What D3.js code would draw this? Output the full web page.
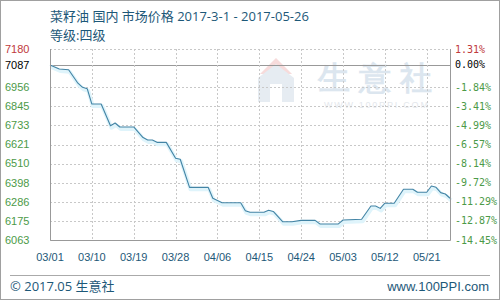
<!DOCTYPE html>
<html>
<head>
<meta charset="utf-8">
<script src="https://cdn.jsdelivr.net/npm/d3@7"></script>
<style>
  html, body { margin: 0; padding: 0; background: #fff; }
  svg { display: block; }
  text { font-family: "Liberation Sans", Arial, sans-serif; }
  .cjk { font-family: "Open Sans", "Noto Sans CJK SC", sans-serif; }
  .mono { font-family: "DejaVu Sans Mono", monospace; }
</style>
</head>
<body>
<div id="chart"></div>
<script>
// price series
const dates = [
  "2017-03-01", "2017-03-03", "2017-03-05", "2017-03-07", "2017-03-08",
  "2017-03-09", "2017-03-10", "2017-03-12", "2017-03-14", "2017-03-15",
  "2017-03-16", "2017-03-19", "2017-03-21", "2017-03-22", "2017-03-23",
  "2017-03-24", "2017-03-26", "2017-03-28", "2017-03-29", "2017-03-31",
  "2017-04-04", "2017-04-05", "2017-04-07", "2017-04-11", "2017-04-12",
  "2017-04-13", "2017-04-16", "2017-04-17", "2017-04-18", "2017-04-20",
  "2017-04-22", "2017-04-24", "2017-04-27", "2017-04-28", "2017-05-02",
  "2017-05-03", "2017-05-07", "2017-05-09", "2017-05-10", "2017-05-11",
  "2017-05-12", "2017-05-14", "2017-05-16", "2017-05-18", "2017-05-19",
  "2017-05-21", "2017-05-22", "2017-05-23", "2017-05-24", "2017-05-25",
  "2017-05-26"
];
const prices = [
  7087, 7063, 7059, 6980, 6956,
  6948, 6858, 6858, 6731, 6747,
  6724, 6724, 6662, 6648, 6648,
  6634, 6634, 6541, 6535, 6371,
  6371, 6307, 6281, 6281, 6234,
  6225, 6225, 6237, 6230, 6170,
  6170, 6178, 6178, 6157, 6157,
  6180, 6184, 6262, 6262, 6248,
  6278, 6278, 6360, 6360, 6342,
  6342, 6379, 6371, 6340, 6332,
  6307
];

const basePrice = 7087;
const yTickValues = [7180, 7087, 6956.6, 6844.9, 6733.2, 6621.5, 6509.8, 6398.1, 6286.4, 6174.7, 6063];
const yTickLabels = ["7180", "7087", "6956", "6845", "6733", "6621", "6510", "6398", "6286", "6175", "6063"];
const pctTickLabels = ["1.31%", "0.00%", "-1.84%", "-3.41%", "-4.99%", "-6.57%", "-8.14%", "-9.72%", "-11.29%", "-12.87%", "-14.45%"];
const xTickDates = ["2017-03-01", "2017-03-10", "2017-03-19", "2017-03-28", "2017-04-06", "2017-04-15", "2017-04-24", "2017-05-03", "2017-05-12", "2017-05-21"];

const titleText = "菜籽油 国内 市场价格 2017-3-1 - 2017-05-26";
const gradeText = "等级:四级";

class PriceChart {
  constructor(el) {
    this.el = el;
    this._setup();
    this._scaffold();
    this._render();
  }

  _setup() {
    this.width = 500;
    this.height = 300;
    this.plot = { left: 50, right: 450, top: 49, bottom: 240 };
    this.parse = d3.timeParse("%Y-%m-%d");
    this.series = dates.map((d, i) => ({ date: this.parse(d), value: prices[i] }));

    this.x = d3
      .scaleTime()
      .domain([this.parse("2017-03-01"), this.parse("2017-05-26")])
      .range([this.plot.left, this.plot.right]);
    this.y = d3
      .scaleLinear()
      .domain([6063, 7180])
      .range([this.plot.bottom, this.plot.top]);

    this.textColor = "#1d5878";
    this.gridColor = "#c8c8c8";
  }

  _scaffold() {
    d3.select(this.el).selectAll("*").remove();
    this.svg = d3
      .select(this.el)
      .append("svg")
      .attr("width", this.width)
      .attr("height", this.height);

    this.svg
      .append("rect")
      .attr("x", 0.5)
      .attr("y", 0.5)
      .attr("width", this.width - 1)
      .attr("height", this.height - 1)
      .attr("fill", "#fff")
      .attr("stroke", "#a0a0a0");

    this.gWatermark = this.svg.append("g").attr("class", "watermark");
    this.gGrid = this.svg.append("g").attr("class", "grid");
    this.gLine = this.svg.append("g").attr("class", "line");
    this.gAxes = this.svg.append("g").attr("class", "axes");
    this.gText = this.svg.append("g").attr("class", "texts");
  }

  _render() {
    const p = this.plot;

    // watermark
    const wm = this.gWatermark.attr("opacity", 0.6);
    wm.append("path")
      .attr("d", "M276,58 L292,74 L260,74 Z")
      .attr("fill", "#f2c4c4");
    wm.append("path")
      .attr("d", "M258,78 L276,64 L294,78 L294,102 L258,102 Z")
      .attr("fill", "#d6e0ea");
    wm.append("rect")
      .attr("x", 270).attr("y", 84).attr("width", 12).attr("height", 18)
      .attr("fill", "#fff");
    wm.append("text")
      .attr("font-family", "Noto Sans CJK SC")
      .attr("x", 318)
      .attr("y", 89)
      .attr("font-size", 32)
      .attr("font-weight", "bold")
      .attr("letter-spacing", 9)
      .attr("fill", "#c6d6e6")
      .text("生意社");
    wm.append("text")
      .attr("x", 324)
      .attr("y", 108)
      .attr("font-size", 9)
      .attr("letter-spacing", 1.8)
      .attr("fill", "#d2d8df")
      .text("WWW.100PPI.COM");

    // horizontal grid
    this.gGrid
      .selectAll("line.h")
      .data(yTickValues)
      .join("line")
      .attr("class", "h")
      .attr("x1", p.left)
      .attr("x2", p.right)
      .attr("y1", (d) => Math.round(this.y(d)) + 0.5)
      .attr("y2", (d) => Math.round(this.y(d)) + 0.5)
      .attr("stroke", (d) => (d === basePrice ? "#999" : this.gridColor))
      .attr("stroke-dasharray", (d) => (d === basePrice ? null : "2,2"));

    // vertical grid
    this.gGrid
      .selectAll("line.v")
      .data(xTickDates.slice(1))
      .join("line")
      .attr("class", "v")
      .attr("x1", (d) => Math.round(this.x(this.parse(d))) + 0.5)
      .attr("x2", (d) => Math.round(this.x(this.parse(d))) + 0.5)
      .attr("y1", p.top)
      .attr("y2", p.bottom)
      .attr("stroke", this.gridColor)
      .attr("stroke-dasharray", "2,2");

    // price line with light glow
    const line = d3
      .line()
      .x((d) => this.x(d.date))
      .y((d) => this.y(d.value));
    this.gLine
      .append("path")
      .datum(this.series)
      .attr("d", line)
      .attr("transform", "translate(1,2)")
      .attr("fill", "none")
      .attr("stroke", "#dff4fb")
      .attr("stroke-width", 4)
      .attr("stroke-linejoin", "round");
    this.gLine
      .append("path")
      .datum(this.series)
      .attr("d", line)
      .attr("fill", "none")
      .attr("stroke", "#4384a5")
      .attr("stroke-width", 1.1)
      .attr("stroke-linejoin", "round");

    // frame: left, bottom, right solid
    this.gAxes
      .append("path")
      .attr(
        "d",
        `M${p.left + 0.5},${p.top}V${p.bottom + 0.5}H${p.right + 0.5}V${p.top}`
      )
      .attr("fill", "none")
      .attr("stroke", "#999");

    // left tick labels
    const colorFor = (i) => (i === 0 ? "#c0393b" : i === 1 ? "#000" : "#4c9a48");
    this.gText
      .selectAll("text.yl")
      .data(yTickValues)
      .join("text")
      .attr("class", "yl")
      .attr("x", 5)
      .attr("y", (d) => this.y(d))
      .attr("dy", "0.35em")
      .attr("font-size", 11)
      .attr("fill", (d, i) => colorFor(i))
      .text((d, i) => yTickLabels[i]);

    // right percent labels
    this.gText
      .selectAll("text.yr")
      .data(yTickValues)
      .join("text")
      .attr("class", "yr mono")
      .attr("x", 455)
      .attr("y", (d) => this.y(d))
      .attr("dy", "0.35em")
      .attr("font-size", 10)
      .attr("fill", (d, i) => colorFor(i))
      .text((d, i) => pctTickLabels[i]);

    // x tick labels
    const fmt = d3.timeFormat("%m/%d");
    this.gText
      .selectAll("text.xl")
      .data(xTickDates)
      .join("text")
      .attr("class", "xl")
      .attr("x", (d) => this.x(this.parse(d)))
      .attr("y", 261)
      .attr("text-anchor", "middle")
      .attr("font-size", 11)
      .attr("fill", this.textColor)
      .text((d) => fmt(this.parse(d)));

    // titles
    this.gText
      .append("text")
      .attr("class", "cjk")
      .attr("x", 50)
      .attr("y", 21)
      .attr("font-size", 13)
      .attr("fill", this.textColor)
      .text(titleText);
    this.gText
      .append("text")
      .attr("class", "cjk")
      .attr("x", 50)
      .attr("y", 40)
      .attr("font-size", 13)
      .attr("fill", this.textColor)
      .text(gradeText);

    // footer
    this.gText
      .append("line")
      .attr("x1", 10)
      .attr("x2", 490)
      .attr("y1", 275.5)
      .attr("y2", 275.5)
      .attr("stroke", "#aaa");
    this.gText
      .append("text")
      .attr("class", "cjk")
      .attr("x", 10)
      .attr("y", 291)
      .attr("font-size", 13)
      .attr("fill", this.textColor)
      .text("© 2017.05 生意社");
    this.gText
      .append("text")
      .attr("x", 489)
      .attr("y", 291)
      .attr("text-anchor", "end")
      .attr("font-size", 13)
      .attr("fill", this.textColor)
      .text("www.100PPI.com");
  }
}

new PriceChart(document.getElementById("chart"));
</script>
</body>
</html>
